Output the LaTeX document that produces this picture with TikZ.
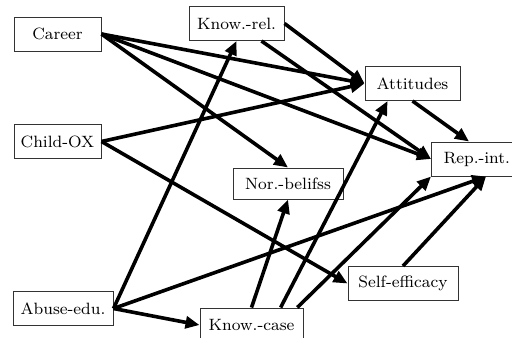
\documentclass[tikz,border=0pt]{standalone}
\usepackage{tikz}
\usetikzlibrary{arrows.meta, calc}

\begin{document}
\begin{tikzpicture}[
    x=0.5pt, y=-0.5pt,
    every node/.style={font=\fontsize{8.2}{9.5}\selectfont},
    varbox/.style={rectangle, draw=black!80, line width=0.5pt, fill=white, minimum height=17pt, inner sep=0pt, align=center},
    arrow/.style={-{Triangle[length=7pt, width=6pt]}, line width=1.8pt}
]
\useasboundingbox (0,0) rectangle (512,337);
\clip (0,0) rectangle (512,337);

% Exogenous variables
\node[varbox, minimum width=43.5pt] (career) at (57.5,34) {Career};
\node[varbox, minimum width=43.5pt] (childox) at (57.5,141.5) {Child-OX};
\node[varbox, minimum width=50pt] (abuse) at (63,308.5) {Abuse-edu.};

% Knowledge
\node[varbox, minimum width=47.5pt] (knowrel) at (236.5,23.5) {Know.-rel.};
\node[varbox, minimum width=51.5pt] (knowcase) at (251.5,325) {Know.-case};

% Mediators
\node[varbox, minimum width=47.5pt] (attitudes) at (412.5,83.5) {Attitudes};
\node[varbox, minimum width=55pt, minimum height=15.5pt] (norbel) at (288,183.5) {Nor.-belifss};
\node[varbox, minimum width=55pt] (selfeff) at (403,283.5) {Self-efficacy};

% Outcome (box runs past the right edge)
\node[varbox, anchor=west, text width=60pt, inner xsep=6pt, align=left] (repint) at (431,159) {Rep.-int.};

% Helper points
\coordinate (kc1) at ($(knowcase.north west)!0.78!(knowcase.north east)$);
\coordinate (kc2) at ($(knowcase.north west)!0.94!(knowcase.north east)$);
\coordinate (kr1) at ($(knowrel.south west)!0.76!(knowrel.south east)$);
\coordinate (at1) at ($(attitudes.south west)!0.24!(attitudes.south east)$);
\coordinate (ri1) at ($(repint.south west)+(55,0)$);
\coordinate (ri2) at ($(repint.north west)+(38,0)$);

% Arrows
\draw[arrow] (career.east) -- (attitudes.west);
\draw[arrow] (career.east) -- (repint.west);
\draw[arrow] (career.east) -- (norbel.north);
\draw[arrow] (childox.east) -- (attitudes.west);
\draw[arrow] (childox.east) -- (selfeff.west);
\draw[arrow] (abuse.east) -- (knowrel.south);
\draw[arrow] (abuse.east) -- (ri1);
\draw[arrow] (abuse.east) -- (knowcase.west);
\draw[arrow] (knowrel.east) -- (attitudes.west);
\draw[arrow] (kr1) -- (repint.west);
\draw[arrow] (knowcase.north) -- (norbel.south);
\draw[arrow] (kc1) -- (at1);
\draw[arrow] (kc2) -- (repint.south west);
\draw[arrow] (attitudes.south) -- (ri2);
\draw[arrow] (selfeff.north) -- (ri1);

\end{tikzpicture}
\end{document}
